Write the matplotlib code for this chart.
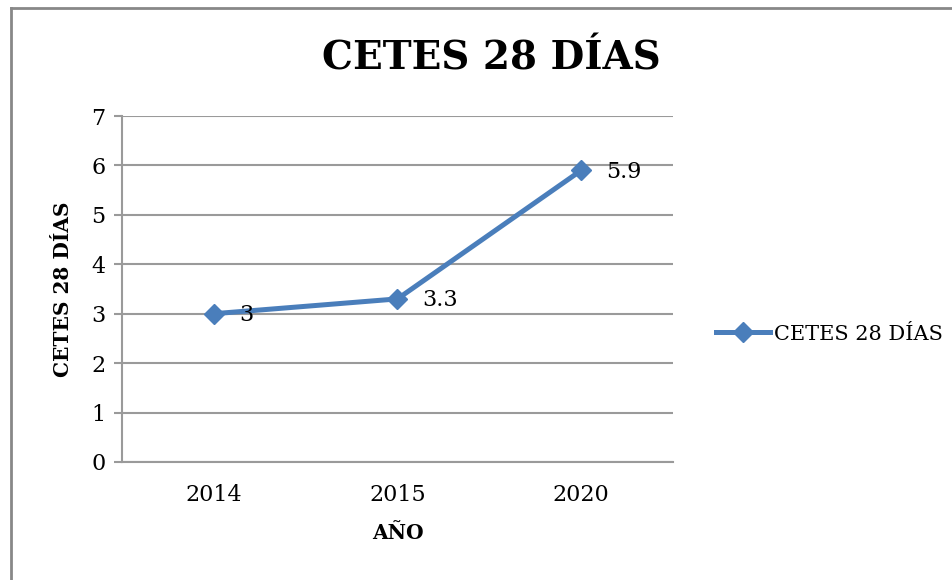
import matplotlib
matplotlib.use("Agg")
import matplotlib.pyplot as plt
from matplotlib.lines import Line2D

# Data
years = ["2014", "2015", "2020"]
cetes = [3, 3.3, 5.9]
value_labels = ["3", "3.3", "5.9"]
y_ticks = [0, 1, 2, 3, 4, 5, 6, 7]

blue = "#4A7EBB"
grid_gray = "#9A9A9A"

plt.rcParams["font.family"] = ["DejaVu Serif"]

fig = plt.figure(figsize=(9.53, 5.80), dpi=100)
ax = fig.add_axes([122 / 953, 1 - 462 / 580, 551 / 953, 346 / 580])

x = list(range(len(years)))
ax.plot(x, cetes, color=blue, lw=3.6, marker="D", markersize=10,
        markerfacecolor=blue, markeredgecolor=blue, label="CETES 28 DÍAS",
        zorder=3)

# data labels to the right of each point
for xi, yi, lab in zip(x, cetes, value_labels):
    ax.annotate(lab, (xi, yi), xytext=(18, -1), textcoords="offset points",
                ha="left", va="center", fontsize=16, color="black")

ax.set_xlim(-0.5, len(years) - 0.5)
ax.set_ylim(0, 7)
ax.set_yticks(y_ticks)
ax.set_xticks(x)
ax.set_xticklabels(years)
ax.yaxis.grid(True, color=grid_gray, lw=1.5)
ax.set_axisbelow(True)

for side in ["top", "right"]:
    ax.spines[side].set_visible(False)
for side in ["left", "bottom"]:
    ax.spines[side].set_color(grid_gray)
    ax.spines[side].set_linewidth(1.5)

ax.tick_params(axis="y", length=6, width=1.5, color=grid_gray,
               labelsize=16, pad=6)
ax.tick_params(axis="x", length=0, labelsize=16, pad=16)

ax.set_xlabel("AÑO", fontsize=14.5, fontweight="bold", labelpad=12)
ax.set_ylabel("CETES 28 DÍAS", fontsize=14.5, fontweight="bold", labelpad=13)

fig.text(491 / 953, 1 - 58 / 580, "CETES 28 DÍAS", ha="center", va="center",
         fontsize=28, fontweight="bold")

leg = fig.legend(handles=ax.get_lines(), loc="center left",
                 bbox_to_anchor=(697 / 953, 1 - 334 / 580), frameon=False,
                 fontsize=15, handlelength=2.6, handletextpad=0.2)

# chart border (left and top edges only visible)
fig.add_artist(Line2D([11 / 953, 11 / 953], [0, 1 - 8 / 580],
                      transform=fig.transFigure, color="#888888", lw=2))
fig.add_artist(Line2D([11 / 953, 1], [1 - 8 / 580, 1 - 8 / 580],
                      transform=fig.transFigure, color="#888888", lw=2))

fig.savefig("out.png", dpi=100)
